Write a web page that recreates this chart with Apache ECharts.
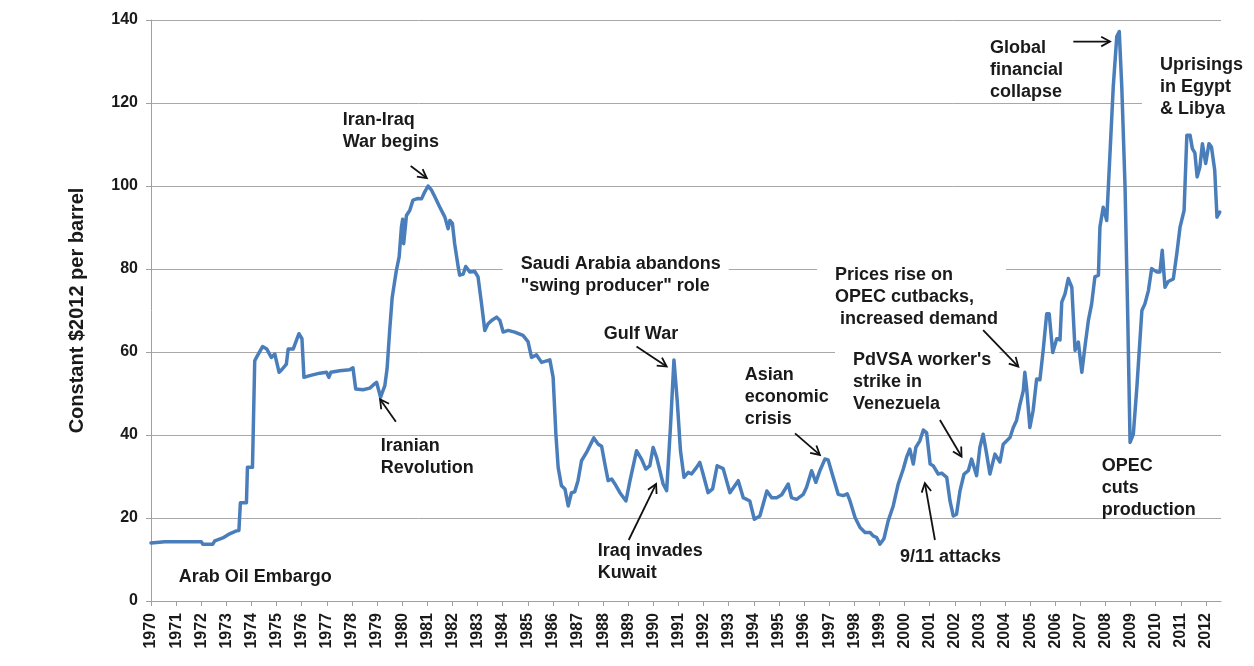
<!DOCTYPE html>
<html>
<head>
<meta charset="utf-8">
<script src="https://cdn.jsdelivr.net/npm/echarts@6/dist/echarts.min.js"></script>
<style>
html,body{margin:0;padding:0;background:#fff;}
#chart{width:1254px;height:666px;}
</style>
</head>
<body>
<div id="chart"></div>
<script>
// Time (decimal year) of each reading and the price in constant 2012 $ per barrel
const years = [
1970.00,1970.55,1972.00,1972.06,1972.46,1972.54,1972.86,1973.13,1973.40,1973.50,
1973.56,1973.80,1973.84,1974.04,1974.13,1974.20,1974.44,1974.60,1974.79,1974.93,
1975.10,1975.23,1975.39,1975.46,1975.66,1975.79,1975.89,1976.01,1976.09,1976.32,
1976.72,1976.99,1977.08,1977.16,1977.51,1977.91,1978.04,1978.15,1978.44,1978.71,
1978.84,1978.98,1979.14,1979.31,1979.40,1979.50,1979.60,1979.70,1979.77,1979.88,
1979.97,1980.02,1980.06,1980.17,1980.30,1980.43,1980.63,1980.77,1980.90,1981.03,
1981.17,1981.30,1981.50,1981.70,1981.83,1981.90,1982.00,1982.09,1982.23,1982.29,
1982.43,1982.53,1982.69,1982.89,1983.02,1983.16,1983.29,1983.42,1983.56,1983.76,
1983.89,1984.02,1984.22,1984.48,1984.81,1985.01,1985.15,1985.35,1985.55,1985.88,
1986.01,1986.12,1986.21,1986.34,1986.48,1986.61,1986.74,1986.87,1987.00,1987.14,
1987.34,1987.63,1987.80,1987.94,1988.07,1988.20,1988.34,1988.47,1988.67,1988.91,
1989.07,1989.33,1989.53,1989.70,1989.86,1989.99,1990.13,1990.26,1990.39,1990.53,
1990.68,1990.82,1990.95,1991.08,1991.22,1991.39,1991.52,1991.72,1991.85,1991.98,
1992.18,1992.36,1992.54,1992.78,1993.05,1993.38,1993.58,1993.84,1994.02,1994.24,
1994.52,1994.71,1994.91,1995.11,1995.37,1995.50,1995.70,1995.97,1996.10,1996.30,
1996.47,1996.63,1996.83,1996.96,1997.16,1997.36,1997.56,1997.72,1997.83,1998.03,
1998.23,1998.43,1998.63,1998.75,1998.89,1999.02,1999.18,1999.35,1999.55,1999.75,
1999.95,2000.08,2000.21,2000.35,2000.45,2000.61,2000.75,2000.88,2001.02,2001.14,
2001.34,2001.48,2001.68,2001.81,2001.94,2002.07,2002.21,2002.37,2002.54,2002.67,
2002.87,2003.00,2003.13,2003.27,2003.40,2003.60,2003.80,2003.93,2004.20,2004.33,
2004.46,2004.60,2004.73,2004.79,2004.86,2004.99,2005.12,2005.26,2005.39,2005.52,
2005.66,2005.76,2005.90,2006.06,2006.19,2006.26,2006.39,2006.52,2006.66,2006.79,
2006.92,2007.06,2007.19,2007.32,2007.45,2007.58,2007.72,2007.78,2007.91,2008.05,
2008.18,2008.31,2008.45,2008.55,2008.65,2008.78,2008.89,2008.98,2009.11,2009.25,
2009.45,2009.57,2009.71,2009.84,2010.04,2010.17,2010.26,2010.37,2010.50,2010.70,
2010.84,2010.97,2011.13,2011.24,2011.37,2011.46,2011.56,2011.65,2011.76,2011.86,
2011.99,2012.12,2012.22,2012.35,2012.44,2012.55
];
const prices = [
14.0,14.3,14.3,13.7,13.7,14.5,15.2,16.2,16.9,17.0,
23.7,23.7,32.2,32.2,57.9,58.7,61.3,60.8,58.7,59.5,
55.1,55.9,57.1,60.7,60.7,62.8,64.4,63.2,53.9,54.3,
54.9,55.1,53.9,55.1,55.5,55.7,56.2,51.1,50.9,51.3,
52.0,52.7,49.1,51.9,56.0,65.0,73.0,77.0,79.7,82.9,
90.1,92.0,86.1,92.9,94.1,96.6,97.0,96.9,98.6,100.0,
99.0,97.4,94.9,92.5,89.7,91.7,91.0,86.1,80.5,78.5,
78.8,80.6,79.3,79.4,78.1,71.6,65.2,66.8,67.6,68.4,
67.6,64.8,65.2,64.8,64.0,62.5,58.7,59.3,57.5,58.1,
53.9,40.2,32.2,27.8,27.0,22.9,26.1,26.3,29.0,33.8,
35.8,39.3,37.8,37.3,33.0,29.0,29.4,28.2,26.1,24.1,
29.0,36.2,34.2,31.8,32.6,37.0,34.6,31.4,28.2,26.6,
41.8,58.1,48.3,36.2,29.8,31.0,30.6,32.2,33.4,30.6,
26.1,27.0,32.6,31.9,26.1,29.0,24.9,24.1,19.7,20.5,
26.5,24.9,24.9,25.6,28.2,24.9,24.5,25.7,27.4,31.4,
28.6,31.4,34.2,34.0,29.8,25.7,25.4,25.8,24.1,20.1,
17.7,16.5,16.5,15.7,15.3,13.7,15.0,19.3,22.9,28.2,
31.8,34.6,36.6,33.0,37.0,38.6,41.2,40.5,33.0,32.6,
30.6,30.8,29.8,24.1,20.5,20.9,26.6,30.6,31.4,34.2,
30.2,37.0,40.2,35.4,30.6,35.4,33.5,37.8,39.4,41.8,
43.5,47.5,50.7,55.1,51.5,41.8,45.9,53.5,53.3,60.4,
69.2,69.2,59.9,63.2,62.9,72.0,74.0,77.7,75.6,60.4,
62.4,55.1,61.6,67.6,71.6,78.1,78.5,90.1,94.9,91.7,
107.8,123.9,136.0,137.2,123.9,99.8,67.6,38.2,40.2,51.5,
70.0,71.6,74.8,80.1,79.3,79.3,84.5,75.6,77.0,77.6,
83.7,90.1,94.1,112.2,112.2,109.0,108.0,102.2,104.6,110.2,
105.4,110.2,109.4,103.8,92.5,93.7
];
// Year tick labels on the x axis
const yearTicks = [
1970,1971,1972,1973,1974,1975,1976,1977,1978,1979,1980,1981,1982,1983,1984,
1985,1986,1987,1988,1989,1990,1991,1992,1993,1994,1995,1996,1997,1998,1999,
2000,2001,2002,2003,2004,2005,2006,2007,2008,2009,2010,2011,2012
];
// Annotation texts, anchored (top-left) in data coordinates [year, price]
const noteTexts = [
  'Arab Oil Embargo',
  'Iranian\nRevolution',
  'Iran-Iraq\nWar begins',
  'Saudi Arabia abandons\n"swing producer" role',
  'Gulf War',
  'Iraq invades\nKuwait',
  'Asian\neconomic\ncrisis',
  'Prices rise on\nOPEC cutbacks,\n increased demand',
  "PdVSA worker's\nstrike in\nVenezuela",
  '9/11 attacks',
  'Global\nfinancial\ncollapse',
  'Uprisings\nin Egypt\n& Libya',
  'OPEC\ncuts\nproduction'
];
const noteYears  = [1971.10,1979.15,1977.63,1984.72,1988.03,1987.79,1993.64,1997.23,1997.95,1999.82,2003.40,2010.17,2007.85];
const notePrices = [8.43,40.00,118.55,83.86,66.99,14.70,57.11,81.20,60.72,13.25,135.90,131.81,35.18];
const noteBoxed  = [false,false,false,true,false,false,false,true,true,false,false,true,false];
// Arrows: tail [year, price] -> tip [year, price]
const arrowFrom = [[1979.75,43.2],[1980.34,104.8],[1989.33,61.3],[1989.02,14.7],[1995.64,40.4],[2003.13,65.3],[2001.41,43.6],[2001.21,14.7],[2006.72,134.8]];
const arrowTo   = [[1979.12,48.6],[1980.98,101.9],[1990.53,56.5],[1990.11,28.2],[1996.63,35.2],[2004.53,56.5],[2002.27,34.8],[2000.81,28.4],[2008.18,134.8]];

const FONT = '"Liberation Sans", Arial, sans-serif';
const TXT = '#1a1a1a';
const AX = '#a0a0a0';

const chart = echarts.init(document.getElementById('chart'), null, {renderer: 'canvas'});
const option = {
  animation: false,
  backgroundColor: '#ffffff',
  grid: {left: 151, right: 33, top: 20, bottom: 65, containLabel: false},
  xAxis: {
    type: 'value', min: 1970, max: 2012.6,
    axisLine: {show: true, lineStyle: {color: AX, width: 1}},
    axisTick: {show: true, customValues: yearTicks, length: 5, lineStyle: {color: AX}},
    axisLabel: {customValues: yearTicks, rotate: 90, margin: 12, fontSize: 16, fontWeight: 'bold',
      fontFamily: FONT, color: TXT, formatter: v => String(Math.round(v))},
    splitLine: {show: false}
  },
  yAxis: {
    type: 'value', min: 0, max: 140, interval: 20,
    name: 'Constant $2012 per barrel', nameLocation: 'middle', nameGap: 64, nameRotate: 90,
    nameTextStyle: {fontSize: 20, fontWeight: 'bold', fontFamily: FONT, color: TXT},
    axisLine: {show: true, lineStyle: {color: AX, width: 1}},
    axisTick: {show: true, length: 5, lineStyle: {color: AX}},
    axisLabel: {margin: 13, fontSize: 16, fontWeight: 'bold', fontFamily: FONT, color: TXT},
    splitLine: {show: true, lineStyle: {color: '#a8a8a8', width: 1}}
  },
  series: [{
    type: 'line',
    data: years.map((y, i) => [y, prices[i]]),
    showSymbol: false, symbol: 'none',
    lineStyle: {color: '#4a7ebb', width: 3.5, join: 'round', cap: 'round'},
    z: 3
  }]
};
chart.setOption(option);

const graphics = [];
const PAD = [1, 8, 1, 18];
noteTexts.forEach((t, i) => {
  const p = chart.convertToPixel({gridIndex: 0}, [noteYears[i], notePrices[i]]);
  const boxed = noteBoxed[i];
  const style = {
    text: t, fill: TXT, font: 'bold 18px ' + FONT, lineHeight: 22,
    align: 'left', verticalAlign: 'top'
  };
  let x = p[0], y = p[1];
  if (boxed) {
    style.backgroundColor = '#ffffff';
    style.padding = PAD;
    x -= PAD[3]; y -= PAD[0];
  }
  graphics.push({type: 'text', x: x, y: y, z: 20, style: style});
});
arrowFrom.forEach((a, i) => {
  const p0 = chart.convertToPixel({gridIndex: 0}, a);
  const p1 = chart.convertToPixel({gridIndex: 0}, arrowTo[i]);
  const ang = Math.atan2(p1[1] - p0[1], p1[0] - p0[0]);
  const L = 10, spread = 0.5;
  const h1 = [p1[0] - L * Math.cos(ang - spread), p1[1] - L * Math.sin(ang - spread)];
  const h2 = [p1[0] - L * Math.cos(ang + spread), p1[1] - L * Math.sin(ang + spread)];
  graphics.push({type: 'polyline', z: 21, shape: {points: [p0, p1]}, style: {stroke: '#111', lineWidth: 1.8, fill: null}});
  graphics.push({type: 'polyline', z: 21, shape: {points: [h1, p1, h2]}, style: {stroke: '#111', lineWidth: 1.8, fill: null, lineJoin: 'miter'}});
});
chart.setOption({graphic: graphics});
</script>
</body>
</html>
